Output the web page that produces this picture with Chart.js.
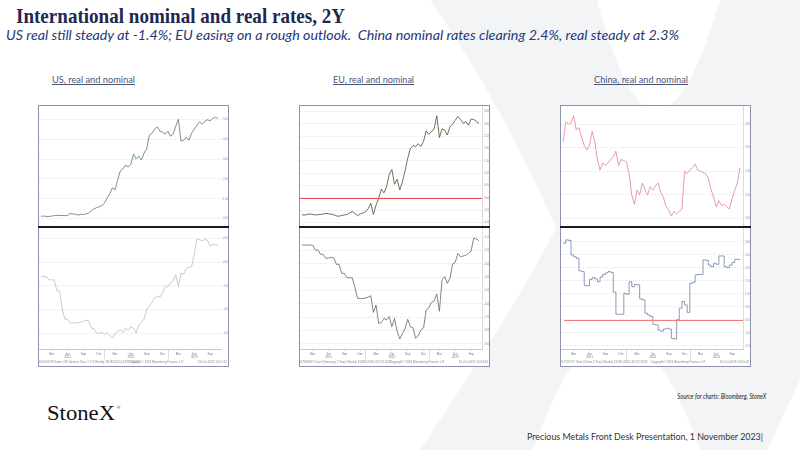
<!DOCTYPE html>
<html><head><meta charset="utf-8">
<script src="https://cdn.jsdelivr.net/npm/chart.js@4.4.0/dist/chart.umd.min.js"></script>
<style>
html,body{margin:0;padding:0;background:#fff;}
body{width:800px;height:450px;position:relative;overflow:hidden;font-family:'Lato','Open Sans',sans-serif;}
.t{position:absolute;white-space:nowrap;display:inline-block;}
.box{position:absolute;border:1px solid #8a92ad;background:#fff;box-sizing:border-box;}
.sep{position:absolute;height:2px;background:#1a1a1a;}
canvas{position:absolute;}
.ct{font-size:9px;color:#4b5578;text-decoration:underline;line-height:11px;}
</style></head><body>
<svg style="position:absolute;left:0;top:0" width="800" height="450">
  <path d="M430,0 L597,0 Q655,220 720,0 L800,0 L800,380 L767,450 L700,450 Q615,216 533,450 L420,450 Q520,300 556,228 Q500,100 430,0 Z" fill="#f3f4f6"/>
</svg>

<div id="title" class="t" style="left:16px;top:4px;font-family:'Liberation Serif',serif;font-weight:bold;font-size:21px;line-height:24px;color:#1f2850;">International nominal and real rates, 2Y</div>
<div id="sub" class="t" style="left:6px;top:27px;font-style:italic;font-size:14px;line-height:16px;color:#22387a;">US real still steady at -1.4%; EU easing on a rough outlook.&nbsp; China nominal rates clearing 2.4%, real steady at 2.3%</div>

<div id="ct1" class="t ct" style="left:52px;top:74px;">US, real and nominal</div>
<div id="ct2" class="t ct" style="left:333px;top:74px;">EU, real and nominal</div>
<div id="ct3" class="t ct" style="left:594px;top:74px;">China, real and nominal</div>

<div class="box" style="left:38px;top:105px;width:191px;height:262px;"></div>
<div class="box" style="left:299px;top:105px;width:191px;height:262px;"></div>
<div class="box" style="left:560px;top:105px;width:191px;height:262px;"></div>

<canvas id="c1" width="189" height="121" style="left:39px;top:106px;"></canvas>
<canvas id="c2" width="189" height="138" style="left:39px;top:228px;"></canvas>
<canvas id="c3" width="189" height="121" style="left:300px;top:106px;"></canvas>
<canvas id="c4" width="189" height="138" style="left:300px;top:228px;"></canvas>
<canvas id="c5" width="189" height="121" style="left:561px;top:106px;"></canvas>
<canvas id="c6" width="189" height="138" style="left:561px;top:228px;"></canvas>

<div class="sep" style="left:38px;top:226px;width:191px;"></div>
<div class="sep" style="left:299px;top:226px;width:191px;"></div>
<div class="sep" style="left:560px;top:226px;width:191px;"></div>

<div id="src" class="t" style="right:34px;top:392px;font-style:italic;font-size:7.5px;line-height:9px;color:#222;">Source for charts: Bloomberg, StoneX</div>
<div id="logo" class="t" style="left:47px;top:400px;font-family:'Liberation Serif',serif;font-size:22px;line-height:25px;color:#111;">StoneX</div>
<div class="t" style="left:117px;top:405px;font-size:4px;line-height:5px;color:#111;">®</div>
<div id="foot" class="t" style="left:527px;top:431px;font-size:9px;line-height:11px;color:#333;">Precious Metals Front Desk Presentation, 1 November 2023|</div>

<script>
// time axis: months since 1 Jan 2021, half-month observations
const T = Array.from({length: 68}, (_, i) => i / 2);

const usNominal = [0.12,0.13,0.11,0.11,0.13,0.15,0.17,0.16,0.16,0.15,
  0.16,0.26,0.24,0.22,0.18,0.22,0.21,0.24,0.28,0.40,
  0.49,0.55,0.60,0.66,0.78,1.05,1.25,1.55,1.45,1.95,
  2.40,2.50,2.70,2.60,2.75,3.25,3.00,3.15,2.95,3.30,
  3.50,4.20,4.30,4.50,4.62,4.40,4.35,4.25,4.40,4.15,
  4.25,4.65,5.00,3.90,3.95,4.10,3.95,4.30,4.50,4.70,
  4.88,4.75,4.90,4.98,4.92,5.05,5.10,5.05];
const usReal = [-1.22,-1.22,-1.22,-1.50,-1.50,-1.50,-2.42,-2.42,-3.96,-4.80,
  -4.82,-5.14,-5.15,-5.10,-5.12,-5.05,-5.00,-4.90,-4.95,-5.56,
  -5.60,-5.98,-6.00,-5.92,-6.08,-5.95,-6.15,-6.40,-6.05,-5.85,
  -5.70,-5.95,-5.55,-5.75,-5.45,-5.60,-5.98,-5.28,-5.10,-4.80,
  -4.02,-3.70,-3.40,-3.03,-2.85,-2.95,-2.60,-2.05,-2.10,-1.75,
  -1.60,-1.07,-2.05,-0.93,-1.00,-0.51,-0.45,-0.37,0.62,1.96,
  1.88,1.80,1.90,1.85,1.32,1.51,1.45,1.40];
const euNominal = [-0.70,-0.70,-0.68,-0.66,-0.68,-0.70,-0.69,-0.68,-0.66,-0.64,
  -0.65,-0.67,-0.69,-0.74,-0.75,-0.72,-0.70,-0.68,-0.62,-0.56,
  -0.64,-0.73,-0.66,-0.62,-0.58,-0.45,-0.22,-0.68,-0.30,-0.03,
  0.35,0.20,0.45,0.95,1.15,0.55,0.75,0.32,0.65,1.10,
  1.60,2.00,2.12,2.08,2.20,2.08,2.30,2.72,2.58,2.68,
  2.80,3.33,2.45,2.80,2.75,2.55,2.88,3.00,3.15,3.30,
  3.18,3.02,3.10,2.95,3.20,3.18,3.10,3.02];
const euReal = [-1.58,-1.58,-1.58,-1.58,-1.58,-1.95,-1.95,-2.28,-2.28,-2.58,
  -2.55,-2.50,-2.55,-3.03,-3.03,-3.70,-3.70,-4.03,-4.03,-4.05,
  -4.78,-5.58,-5.58,-5.60,-5.55,-5.50,-5.38,-6.63,-6.08,-7.45,
  -7.40,-7.08,-7.20,-6.95,-7.70,-7.08,-8.05,-8.63,-8.20,-7.83,
  -7.15,-7.70,-7.78,-8.58,-8.38,-7.95,-7.80,-6.45,-6.30,-5.88,
  -5.78,-5.25,-6.55,-4.20,-3.95,-4.45,-4.10,-3.00,-2.88,-2.20,
  -2.45,-2.40,-2.35,-2.20,-2.03,-1.08,-1.12,-1.25];
const cnNominal = [2.65,2.82,2.80,2.81,2.87,2.75,2.77,2.69,2.62,2.58,
  2.62,2.74,2.65,2.50,2.41,2.47,2.45,2.47,2.50,2.52,
  2.57,2.45,2.50,2.49,2.48,2.38,2.20,2.12,2.24,2.20,
  2.30,2.25,2.20,2.27,2.24,2.28,2.30,2.22,2.18,2.10,
  2.07,2.02,2.06,2.04,2.06,2.08,2.40,2.38,2.41,2.43,
  2.46,2.41,2.40,2.39,2.38,2.34,2.25,2.18,2.10,2.15,
  2.11,2.12,2.10,2.08,2.17,2.24,2.30,2.43];
const cnReal = [2.94,3.07,3.05,2.49,2.42,2.36,1.88,1.85,1.32,1.30,
  1.55,1.62,1.57,1.46,1.64,1.74,1.80,1.85,1.82,1.06,
  0.21,0.21,0.21,1.01,0.98,1.46,1.27,1.36,1.34,0.80,
  0.76,0.25,0.18,0.12,-0.18,-0.20,-0.40,-0.44,-0.36,-0.33,
  -0.36,-0.72,-0.74,0.00,0.44,0.70,0.57,0.28,1.40,1.44,
  1.72,1.74,1.74,2.30,2.28,2.10,2.04,2.17,2.13,2.45,
  2.45,2.04,2.00,2.10,2.20,2.32,2.32,2.32];

const xTickPos = [2,5,8,11,14,17,20,23,26,29,32];
const xTickLabels = ['Mar',['Jun','2021'],'Sep','Dec','Mar',['Jun','2022'],'Sep','Dec','Mar',['Jun','2023'],'Sep'];
const yearBreaks = [12,24];

const usTopTicks = [0,1,2,3,4,5];
const usBotTicks = [-6,-4,-2,0,2];
const euTopTicks = [-1,-0.5,0,0.5,1,1.5,2,2.5,3,3.5];
const euBotTicks = [-9,-8,-7,-6,-5,-4,-3,-2,-1];
const cnTopTicks = [2.0,2.2,2.4,2.6,2.8];
const cnBotTicks = [-1,-0.5,0,0.5,1,1.5,2,2.5,3];

const footers = {
  us: ['USGG2YR Index (US Generic Govt 2 Yr) Weekly 31DEC2020-31OCT2023','Copyright\u00a9 2023 Bloomberg Finance L.P.','31-Oct-2023 10:01:12'],
  eu: ['GTDEM2Y Govt (Germany 2 Year) Weekly 31DEC2020-31OCT2023','Copyright\u00a9 2023 Bloomberg Finance L.P.','31-Oct-2023 10:03:40'],
  cn: ['GTCNY2Y Govt (China 2 Year) Weekly 31DEC2020-31OCT2023','Copyright\u00a9 2023 Bloomberg Finance L.P.','31-Oct-2023 10:05:02']
};

const overlay = {
  id: 'overlay',
  afterDatasetsDraw(chart, args, o) {
    const {ctx, chartArea: a, scales} = chart;
    ctx.save();
    ctx.setLineDash([]);
    if (o.zero) {
      const y = Math.round(scales.y.getPixelForValue(0)) + 0.5;
      ctx.strokeStyle = o.zeroColor; ctx.lineWidth = 1;
      ctx.beginPath(); ctx.moveTo(scales.x.getPixelForValue(o.zeroFrom), y); ctx.lineTo(a.right, y); ctx.stroke();
    }
    if (o.footer) {
      ctx.strokeStyle = '#cfcfcf'; ctx.lineWidth = 0.7;
      yearBreaks.forEach(v => {
        const x = Math.round(scales.x.getPixelForValue(v)) + 0.5;
        ctx.beginPath(); ctx.moveTo(x, a.bottom); ctx.lineTo(x, a.bottom + 10); ctx.stroke();
      });
      ctx.fillStyle = '#8a8a8a'; ctx.font = '3px "Liberation Sans", sans-serif';
      ctx.textBaseline = 'alphabetic';
      const yb = chart.height - 3;
      ctx.textAlign = 'left'; ctx.fillText(o.footer[0], 0, yb);
      ctx.textAlign = 'center'; ctx.fillText(o.footer[1], chart.width * 0.62, yb);
      ctx.textAlign = 'right'; ctx.fillText(o.footer[2], chart.width - 1, yb);
    }
    ctx.restore();
  }
};

function makeChart(id, values, color, width, yMin, yMax, yTicks, cfg) {
  const bottom = !!cfg.footer;
  return new Chart(document.getElementById(id), {
    type: 'line',
    data: { datasets: [{
      data: values.map((v, i) => ({x: T[i], y: v})),
      borderColor: color, borderWidth: width, pointRadius: 0, tension: 0,
      stepped: cfg.stepped || false, fill: false
    }]},
    options: {
      responsive: false, animation: false, events: [],
      layout: {padding: 0},
      plugins: { legend: {display: false}, tooltip: {enabled: false},
        overlay: {zero: cfg.zero || false, zeroColor: cfg.zeroColor || '#ee4b4b', zeroFrom: cfg.zeroFrom || -0.4, footer: cfg.footer || null} },
      scales: {
        x: {
          type: 'linear', min: -0.4, max: 34.07, display: bottom,
          afterBuildTicks: s => { s.ticks = xTickPos.map(v => ({value: v})); },
          afterFit: s => { s.height = bottom ? 17 : 0; s.paddingLeft = 0; s.paddingRight = 0; },
          grid: {drawOnChartArea: false, drawTicks: true, tickLength: 2, color: '#bdbdbd', lineWidth: 0.6},
          border: {display: true, color: '#bdbdbd', width: 0.8},
          ticks: {autoSkip: false, maxRotation: 0, minRotation: 0, padding: 1, color: '#777',
            font: {size: 3, family: 'Liberation Sans', lineHeight: 1.25},
            callback: (v, i) => xTickLabels[i]}
        },
        y: {
          position: 'right', min: yMin, max: yMax,
          afterBuildTicks: s => { s.ticks = yTicks.map(v => ({value: v})); },
          afterFit: s => { s.width = 7; s.paddingTop = 0; s.paddingBottom = 0; },
          grid: {color: '#e6e6e6', lineWidth: 1, drawTicks: true, tickLength: 1},
          border: {display: cfg.axisLine || false, color: '#d0d0d0', width: 0.8, dash: [1,1]},
          ticks: {autoSkip: false, padding: 1, color: '#8a8a8a',
            font: {size: 3, family: 'Liberation Sans'},
            callback: v => Number(v).toFixed(2)}
        }
      }
    },
    plugins: [overlay]
  });
}

makeChart('c1', usNominal, '#5b7b5b', 0.8, -0.42, 5.67, usTopTicks, {});
makeChart('c2', usReal, '#bdbdbd', 0.8, -7.32, 2.87, usBotTicks, {footer: footers.us});
makeChart('c3', euNominal, '#46512f', 0.8, -1.19, 3.73, euTopTicks, {zero: true, axisLine: true});
makeChart('c4', euReal, '#666666', 0.8, -9.38, -0.30, euBotTicks, {footer: footers.eu, axisLine: true});
makeChart('c5', cnNominal, '#e07282', 0.7, 1.928, 2.953, cnTopTicks, {axisLine: true});
makeChart('c6', cnReal, '#5a7299', 0.7, -1.127, 3.527, cnBotTicks, {footer: footers.cn, zero: true, zeroColor: '#f07a7a', zeroFrom: 0.2, stepped: true, axisLine: true});

function fit(id, w, right) {
  const el = document.getElementById(id);
  const r = el.getBoundingClientRect().width;
  el.style.transformOrigin = right ? 'right top' : 'left top';
  el.style.transform = 'scaleX(' + (w / r) + ')';
}
fit('title', 329); fit('sub', 673);
fit('ct1', 83); fit('ct2', 81); fit('ct3', 94);
fit('src', 89, true); fit('logo', 68); fit('foot', 236);
</script>
</body></html>
